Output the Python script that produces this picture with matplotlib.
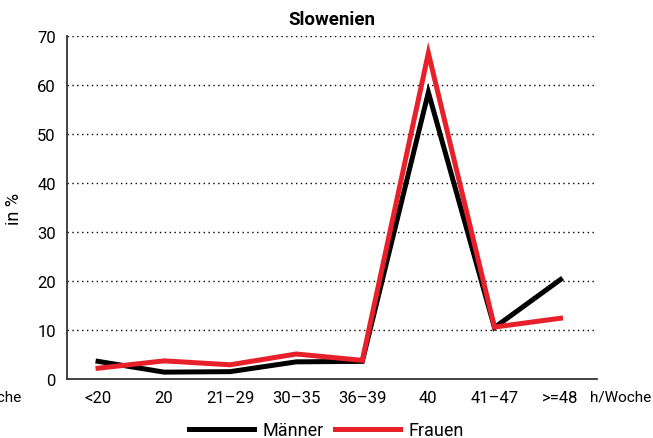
import matplotlib.pyplot as plt

plt.rcParams['font.family'] = ['Roboto', 'DejaVu Sans']

# Arbeitszeit-Kategorien und Anteile in %
categories = ['<20', '20', '21–29', '30–35', '36–39', '40', '41–47', '>=48']
maenner = [3.6, 1.4, 1.5, 3.5, 3.6, 58.5, 10.5, 20.3]
frauen = [2.2, 3.7, 2.9, 5.1, 3.8, 66.5, 10.6, 12.4]

fig = plt.figure(figsize=(6.53, 4.39), dpi=100)
ax = fig.add_axes([0.1026, 0.1344, 0.8114, 0.7813])

x = list(range(len(categories)))
ax.plot(x, maenner, color='black', linewidth=3.6, label='Männer', solid_joinstyle='miter')
ax.plot(x, frauen, color='#e8202a', linewidth=3.6, label='Frauen', solid_joinstyle='miter')

ax.set_ylim(0, 70)
ax.set_xlim(-0.47, 7.55)
ax.set_yticks(range(0, 80, 10))
ax.set_xticks(x)
ax.set_xticklabels(categories)
ax.tick_params(length=0, labelsize=12, pad=8)
ax.tick_params(axis='y', pad=8)

for v in range(10, 80, 10):
    ax.axhline(v, color='black', linewidth=1, linestyle=(0, (1, 2.5)), zorder=0)

for s in ['top', 'right']:
    ax.spines[s].set_visible(False)
for s in ['left', 'bottom']:
    ax.spines[s].set_color('#333333')
    ax.spines[s].set_linewidth(1.3)

ax.set_title('Slowenien', fontsize=13.5, fontweight='bold', pad=9)
ax.set_ylabel('in %', fontsize=13, labelpad=10)

fig.text(651 / 653, 1 - 398 / 439, 'h/Woche', fontsize=11, va='center', ha='right')
fig.text(21 / 653, 1 - 398 / 439, 'h/Woche', fontsize=11, va='center', ha='right')

fig.legend(loc='lower center', ncol=2, frameon=False, fontsize=13,
           handlelength=3.6, columnspacing=0.6, handletextpad=0.5,
           bbox_to_anchor=(0.5, -0.04))

fig.savefig('out.png', dpi=100)
